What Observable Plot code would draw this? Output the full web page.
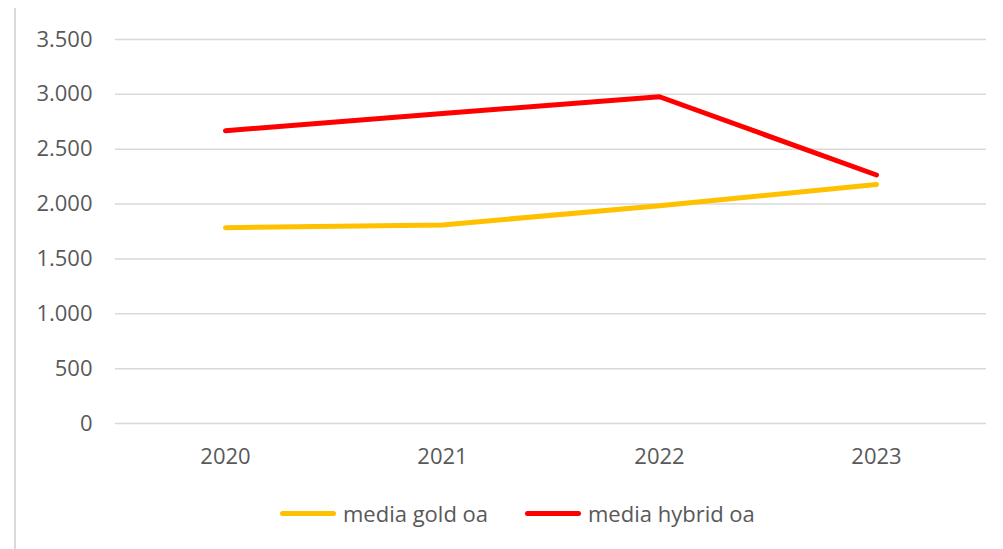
<!DOCTYPE html>
<html>
<head>
<meta charset="utf-8">
<script src="https://cdn.jsdelivr.net/npm/d3@7"></script>
<script src="https://cdn.jsdelivr.net/npm/@observablehq/plot@0.6"></script>
<style>
  html, body { margin: 0; padding: 0; background: #fff; }
  #wrap { position: relative; width: 1003px; height: 549px; overflow: hidden; font-family: "Open Sans", Lato, sans-serif; }
  #border { position: absolute; left: 14px; top: 8px; width: 2px; height: 541px; background: #d9d9d9; }
  #legend { position: absolute; top: 498px; left: 0; width: 1003px; height: 30px; }
  .item { position: absolute; top: 0; display: flex; align-items: center; font-size: 22px; color: #595959; height: 30px; }
  .sw { width: 56px; height: 5px; border-radius: 3px; margin-right: 7px; }
</style>
</head>
<body>
<div id="wrap">
  <div id="chart"></div>
  <div id="border"></div>
  <div id="legend"></div>
</div>
<script>
const years = ["2020", "2021", "2022", "2023"];
const goldValues = [1785, 1810, 1985, 2178];
const hybridValues = [2668, 2825, 2978, 2265];
const seriesNames = ["media gold oa", "media hybrid oa"];
const seriesColors = ["#FFC000", "#FF0000"];
const yTicks = [0, 500, 1000, 1500, 2000, 2500, 3000, 3500];

const rows = [];
years.forEach((y, i) => {
  rows.push({year: y, value: goldValues[i], series: seriesNames[0]});
  rows.push({year: y, value: hybridValues[i], series: seriesNames[1]});
});

const fmt = d => d3.format(",")(d).replace(/,/g, ".");

const chart = Plot.plot({
  width: 1003,
  height: 480,
  marginLeft: 115,
  marginRight: 17,
  marginTop: 39,
  marginBottom: 57,
  style: {fontFamily: "'Open Sans', Lato, sans-serif", fontSize: "22px", color: "#595959", background: "transparent"},
  x: {type: "point", domain: years, padding: 0.5, label: null, tickSize: 0, tickPadding: 25},
  y: {domain: [0, 3500], ticks: yTicks, tickFormat: fmt, label: null, tickSize: 0, tickPadding: 23},
  color: {domain: seriesNames, range: seriesColors},
  marks: [
    Plot.ruleY(yTicks, {stroke: "#d9d9d9", strokeWidth: 1.5}),
    Plot.lineY(rows, {x: "year", y: "value", z: "series", stroke: "series", strokeWidth: 5, strokeLinecap: "round", strokeLinejoin: "round"})
  ]
});
document.getElementById("chart").appendChild(chart);

const legend = document.getElementById("legend");
const lefts = [280, 525];
seriesNames.forEach((n, i) => {
  const it = document.createElement("div");
  it.className = "item";
  it.style.left = lefts[i] + "px";
  const sw = document.createElement("div");
  sw.className = "sw";
  sw.style.background = seriesColors[i];
  const tx = document.createElement("span");
  tx.textContent = n;
  it.appendChild(sw);
  it.appendChild(tx);
  legend.appendChild(it);
});
</script>
</body>
</html>
